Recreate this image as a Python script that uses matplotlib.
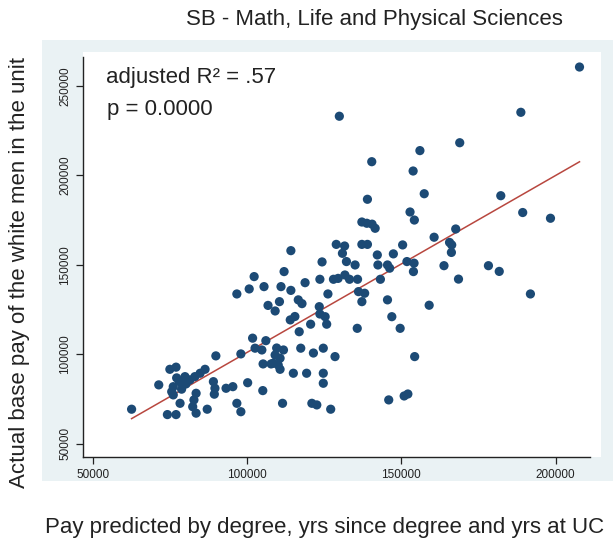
import numpy as np
import matplotlib.pyplot as plt
from matplotlib.patches import Rectangle

plt.rcParams['font.family'] = ['Liberation Sans', 'DejaVu Sans']

# predicted pay (x) and actual base pay (y) for each unit
pred = [62600, 71400, 74200, 77000, 75000, 77000, 76100, 76100, 78100, 79900,
        80200, 78800, 78300, 83100, 84800, 86400, 83500, 82800, 82400, 83500,
        87100, 89100, 89600, 89400, 89900, 93200, 95400, 96700, 98000, 100200,
        105100, 98000, 101800, 102600, 104800, 106100, 105200, 107800, 77200, 81500,
        75600, 96700, 100700, 102300, 105500, 106800, 109100, 110500, 111000, 112000,
        114200, 114200, 116600, 117800, 118800, 114000, 115500, 116900, 120600, 123400,
        123600, 124300, 123600, 125300, 125800, 126200, 128000, 129500, 131700, 133200,
        135800, 128900, 131600, 130900, 132200, 135000, 137200, 139000, 136100, 138100,
        137200, 142200, 142400, 145500, 146200, 147400, 150400, 151800, 154100, 153900,
        143200, 145500, 146900, 149600, 135700, 154300, 159000, 163800, 168500, 178200,
        181700, 191800, 160600, 165600, 166300, 166200, 167600, 207700, 188700, 168900,
        129900, 156000, 140400, 153800, 157400, 182200, 189300, 198300, 139000, 152800,
        154200, 137200, 138800, 140500, 141500, 109600, 111800, 109100, 110700, 110100,
        108500, 110700, 117400, 121500, 124700, 128500, 115000, 119300, 124700, 124700,
        111500, 121000, 122600, 127100, 145900, 150900, 152100]
actual = [69400, 83000, 66400, 66400, 91700, 92900, 82000, 77400, 84800, 87600,
          83500, 80600, 72700, 87600, 89500, 91700, 78300, 74600, 70800, 67200,
          69400, 84800, 81100, 77800, 99200, 81100, 82000, 72700, 68000, 84200,
          79800, 100300, 109100, 103500, 102500, 107700, 94700, 94700, 86900, 85800,
          79200, 133800, 136600, 143500, 137900, 127400, 124300, 129500, 137900, 146300,
          158000, 135800, 130500, 128400, 140100, 119300, 121200, 112700, 116900, 126700,
          142000, 151700, 122600, 121100, 116900, 133800, 142000, 142500, 144400, 142000,
          142000, 161500, 160600, 156500, 151900, 150000, 161500, 161500, 135100, 134200,
          129500, 155600, 150000, 150000, 148200, 156200, 161200, 151900, 151000, 146300,
          142000, 130500, 121100, 114600, 114600, 98800, 127500, 149600, 142100, 149600,
          146400, 133800, 165500, 162600, 161200, 157000, 170100, 260600, 235300, 218300,
          233100, 213900, 207700, 202500, 189800, 188700, 179300, 176100, 186700, 179600,
          175100, 174000, 173300, 172800, 170500, 103600, 102500, 99700, 97900, 94100,
          95100, 91700, 103500, 100800, 103500, 98800, 89500, 89500, 89500, 83900,
          72700, 72700, 71800, 69400, 74600, 76800, 77900]

xticks = [50000, 100000, 150000, 200000]
yticks = [50000, 100000, 150000, 200000, 250000]

fig = plt.figure(figsize=(6.13, 5.41), dpi=100)
# light graph region behind the plot, white plot region on top of it
fig.patches.append(Rectangle((42 / 613, 1 - 481 / 541), 571 / 613, 441 / 541,
                             transform=fig.transFigure, facecolor='#eaf2f4',
                             edgecolor='none', zorder=-2))
fig.patches.append(Rectangle((83 / 613, 1 - 457 / 541), 518 / 613, 405 / 541,
                             transform=fig.transFigure, facecolor='white',
                             edgecolor='none', zorder=-1))

ax = fig.add_axes([83 / 613, 84 / 541, 507 / 613, 400 / 541])
ax.set_zorder(1)
ax.set_facecolor('white')

ax.scatter(pred, actual, s=44, color='#1c4a75', edgecolors='none', zorder=3)

# linear fit line
b1, b0 = np.polyfit(pred, actual, 1)
xs = np.array([min(pred), max(pred)])
ax.plot(xs, b0 + b1 * xs, color='#b8473f', lw=1.1, zorder=2)

ax.set_xlim(46860, 211100)
ax.set_ylim(42700, 266200)
ax.set_xticks(xticks)
ax.set_yticks(yticks)
tick_font = dict(family=['Liberation Sans Narrow', 'Liberation Sans'], size=8.5)
ax.set_xticklabels([str(v) for v in xticks], fontdict=tick_font)
ax.set_yticklabels([str(v) for v in yticks], fontdict=tick_font, rotation=90, va='center')
ax.tick_params(direction='out', length=5, width=0.9, colors='#222222')

for s in ['top', 'right']:
    ax.spines[s].set_visible(False)
for s in ['left', 'bottom']:
    ax.spines[s].set_linewidth(1.0)
    ax.spines[s].set_color('#222222')

fig.text(374 / 613, 1 - 20 / 541, 'SB - Math, Life and Physical Sciences',
         ha='center', va='center', fontsize=16, color='#222222')
fig.text(106 / 613, 1 - 77 / 541, 'adjusted R² = .57', ha='left', va='center',
         fontsize=16, color='#222222', zorder=5)
fig.text(107 / 613, 1 - 110 / 541, 'p = 0.0000', ha='left', va='center',
         fontsize=16, color='#222222', zorder=5)
fig.text(325 / 613, 1 - 527 / 541,
         'Pay predicted by degree, yrs since degree and yrs at UC',
         ha='center', va='center', fontsize=16, color='#222222')
fig.text(20 / 613, 1 - 272 / 541, 'Actual base pay of the white men in the unit',
         ha='center', va='center', rotation=90, fontsize=16, color='#222222')

fig.savefig('out.png', dpi=100)
